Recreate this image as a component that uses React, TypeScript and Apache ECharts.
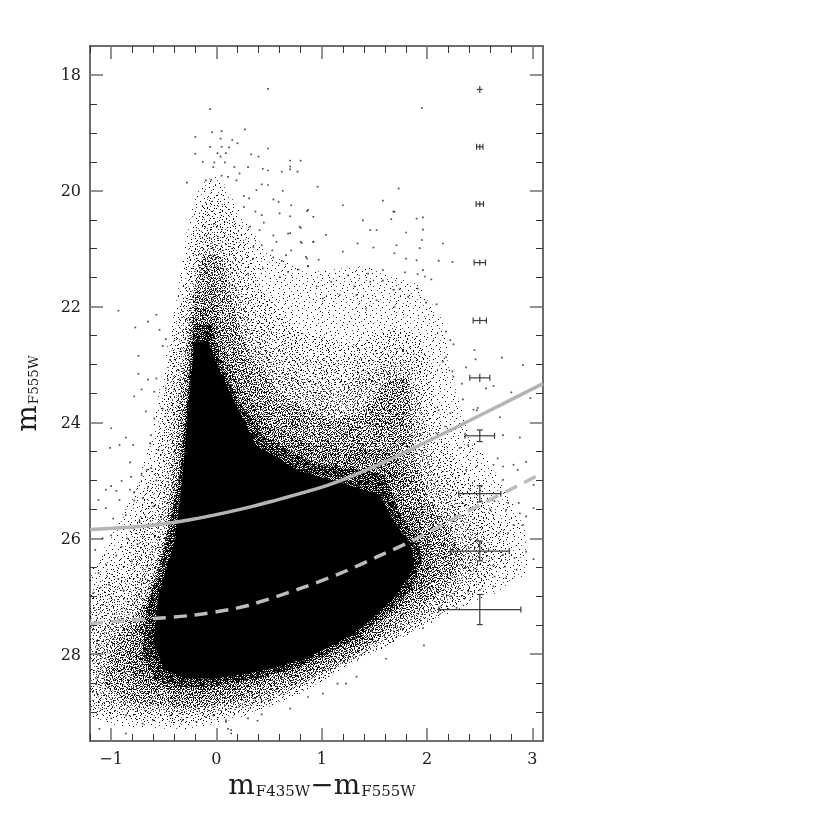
import React, { useEffect, useRef } from "react";
import * as echarts from "echarts";

const xMajor = [-1, 0, 1, 2, 3];
const xMinor = [-1.2, -0.8, -0.6, -0.4, -0.2, 0.2, 0.4, 0.6, 0.8, 1.2, 1.4, 1.6, 1.8, 2.2, 2.4, 2.6, 2.8];
const yMajor = [18, 20, 22, 24, 26, 28];
const yMinor = [18.5, 19, 19.5, 20.5, 21, 21.5, 22.5, 23, 23.5, 24.5, 25, 25.5, 26.5, 27, 27.5, 28.5, 29];

// Solid and dashed completeness curves.
const solidCurve = [[-1.2, 25.85], [-0.63, 25.78], [-0.25, 25.68], [0.13, 25.54], [0.51, 25.37], [1.08, 25.07], [1.55, 24.72], [2.19, 24.16], [3.1, 23.33]];
const dashedCurve = [[-1.2, 27.47], [-0.7, 27.4], [-0.23, 27.33], [0.13, 27.23], [0.32, 27.15], [0.79, 26.87], [1.17, 26.61], [1.55, 26.3], [1.86, 26.04], [2.38, 25.54], [3.1, 24.87]];

// Photometric error bars: [colour, magnitude, colour error, magnitude error].
const errorBars = [
  [2.5, 18.25, 0.028, 0.06], [2.5, 19.24, 0.03, 0.05], [2.5, 20.23, 0.035, 0.05], [2.5, 21.24, 0.054, 0.05], [2.5, 22.24, 0.063, 0.06],
  [2.5, 23.23, 0.095, 0.07], [2.5, 24.23, 0.14, 0.1], [2.5, 25.23, 0.2, 0.14], [2.5, 26.22, 0.28, 0.17], [2.5, 27.23, 0.39, 0.26],
];

// The cloud holds far too many stars to read one by one: its density zones are outlined from the picture, outermost first.
const zoneFaint = [[-0.14, 19.85], [-0.02, 19.75], [0.08, 19.9], [0.3, 20.6], [0.5, 21.1], [0.9, 21.4], [1.4, 21.3], [1.9, 21.6], [2.15, 22.2], [2.25, 23.3], [2.4, 24.2], [2.7, 25.0], [2.95, 25.9], [2.95, 26.6], [2.65, 26.95], [2.2, 27.3], [1.96, 27.55], [1.62, 27.87], [1.3, 28.15], [0.82, 28.67], [0.4, 29.0], [0, 29.2], [-0.3, 29.3], [-0.9, 29.25], [-1.2, 29.1], [-1.2, 26.6], [-0.98, 25.9], [-0.78, 25.2], [-0.62, 24.3], [-0.52, 23.2], [-0.37, 21.8], [-0.28, 20.7], [-0.22, 20.2]];
const zoneA = [[-0.13, 20.2], [0.0, 20.05], [0.1, 20.25], [0.27, 20.8], [0.42, 21.7], [0.8, 22.45], [1.3, 22.65], [1.7, 22.35], [1.92, 22.5], [2.02, 22.9], [2.05, 23.4], [2.15, 24.3], [2.45, 25.1], [2.75, 25.9], [2.75, 26.4], [2.5, 26.9], [2.05, 27.4], [1.62, 27.85], [1.3, 28.15], [0.82, 28.65], [0.4, 28.97], [0, 29.12], [-0.3, 29.2], [-0.9, 29.12], [-1.2, 29.0], [-1.2, 27.0], [-0.9, 26.3], [-0.7, 25.4], [-0.56, 24.4], [-0.47, 23.2], [-0.33, 21.8], [-0.25, 20.9]];
const zoneB = [[-0.1, 20.55], [0.0, 20.45], [0.1, 20.7], [0.22, 21.3], [0.38, 22.1], [0.8, 22.85], [1.3, 22.95], [1.7, 22.6], [1.92, 22.85], [1.95, 23.6], [2.05, 24.5], [2.3, 25.2], [2.55, 25.9], [2.65, 26.5], [2.4, 27.0], [2.0, 27.5], [1.6, 27.83], [1.28, 28.15], [0.82, 28.6], [0.4, 28.93], [0, 29.07], [-0.3, 29.1], [-0.9, 29.05], [-1.2, 28.9], [-1.2, 27.3], [-0.85, 26.6], [-0.65, 25.6], [-0.52, 24.5], [-0.42, 23.2], [-0.3, 21.9], [-0.22, 21.1]];
const zoneC = [[-0.1, 20.95], [0.0, 20.85], [0.08, 21.1], [0.2, 21.7], [0.36, 22.5], [0.7, 23.2], [1.15, 23.4], [1.5, 23.05], [1.8, 22.95], [1.9, 23.3], [1.95, 24.1], [2.05, 24.9], [2.3, 25.5], [2.5, 26.0], [2.5, 26.5], [2.25, 27.0], [1.9, 27.45], [1.55, 27.8], [1.25, 28.15], [0.82, 28.55], [0.4, 28.85], [0, 29.0], [-0.3, 29.03], [-0.9, 28.95], [-1.15, 28.7], [-1.15, 27.7], [-0.8, 27.0], [-0.58, 26.0], [-0.46, 24.8], [-0.37, 23.4], [-0.27, 22.0], [-0.2, 21.4]];
const zoneD = [[-0.13, 21.1], [0.03, 21.1], [0.15, 21.9], [0.3, 22.8], [0.6, 23.5], [1.05, 23.95], [1.38, 23.85], [1.6, 23.3], [1.82, 23.2], [1.85, 23.9], [1.88, 24.6], [2.0, 25.3], [2.2, 25.8], [2.35, 26.3], [2.15, 26.9], [1.8, 27.4], [1.5, 27.8], [1.2, 28.15], [0.82, 28.48], [0.4, 28.75], [0, 28.9], [-0.3, 28.93], [-0.85, 28.82], [-1.08, 28.5], [-1.0, 27.8], [-0.72, 27.2], [-0.52, 26.2], [-0.42, 25.0], [-0.34, 23.5], [-0.25, 22.2]];
const zoneE = [[-0.22, 21.8], [0.0, 21.6], [0.1, 22.3], [0.27, 23.0], [0.6, 23.7], [1.05, 24.05], [1.4, 24.05], [1.6, 23.5], [1.78, 23.4], [1.8, 24.2], [1.85, 25.0], [2.05, 25.7], [2.2, 26.2], [2.05, 26.8], [1.75, 27.3], [1.45, 27.8], [1.15, 28.1], [0.8, 28.4], [0.4, 28.65], [0, 28.8], [-0.3, 28.82], [-0.8, 28.7], [-0.98, 28.3], [-0.9, 27.8], [-0.65, 27.1], [-0.47, 26.2], [-0.38, 25.0], [-0.31, 23.6]];
const zoneF = [[-0.21, 22.0], [-0.02, 22.0], [0.07, 22.7], [0.22, 23.4], [0.5, 24.0], [0.95, 24.4], [1.35, 24.5], [1.6, 24.4], [1.72, 24.6], [1.8, 25.3], [1.98, 25.9], [2.07, 26.3], [1.98, 26.8], [1.7, 27.25], [1.4, 27.75], [1.1, 28.05], [0.8, 28.3], [0.4, 28.55], [0, 28.67], [-0.3, 28.7], [-0.7, 28.6], [-0.85, 28.2], [-0.8, 27.6], [-0.6, 27.0], [-0.42, 26.0], [-0.34, 24.8], [-0.28, 23.4]];
const zoneG = [[-0.22, 22.3], [-0.05, 22.3], [0.05, 23.0], [0.2, 23.6], [0.45, 24.25], [0.9, 24.7], [1.3, 24.8], [1.6, 24.9], [1.72, 25.5], [1.9, 26.0], [1.95, 26.4], [1.85, 26.9], [1.6, 27.3], [1.35, 27.7], [1.05, 28.0], [0.8, 28.2], [0.4, 28.42], [0, 28.55], [-0.3, 28.58], [-0.58, 28.45], [-0.7, 28.0], [-0.66, 27.2], [-0.5, 26.2], [-0.35, 24.9], [-0.27, 23.5]];
const coreZone = [[-0.21, 22.6], [-0.08, 22.6], [0.03, 23.1], [0.16, 23.6], [0.38, 24.4], [0.8, 24.85], [1.2, 25.05], [1.55, 25.25], [1.7, 25.75], [1.85, 26.15], [1.88, 26.5], [1.7, 27.0], [1.5, 27.35], [1.3, 27.65], [1.05, 27.9], [0.8, 28.1], [0.4, 28.3], [0, 28.42], [-0.3, 28.42], [-0.5, 28.25], [-0.6, 27.8], [-0.55, 27.0], [-0.39, 26.0], [-0.32, 24.9], [-0.26, 23.6]];

// Individually readable stars outside the dense parts of the cloud.
const starsTop = [[0.49, 18.24], [-0.06, 18.59], [-0.04, 18.99], [0.05, 18.97], [0.27, 18.94], [-0.2, 19.07], [0.04, 19.1], [0.15, 19.12], [0.2, 19.18], [-0.06, 19.24], [0.05, 19.24], [0.12, 19.25], [0.49, 19.27], [-0.2, 19.36], [0.01, 19.35], [0.09, 19.35], [0.04, 19.41], [0.33, 19.37], [0.4, 19.41], [0.7, 19.48], [0.8, 19.48], [-0.02, 19.51], [0.08, 19.51], [-0.13, 19.5], [0.17, 19.59], [0.3, 19.59], [-0.03, 19.59], [0.44, 19.62], [0.49, 19.65], [0.7, 19.58], [0.7, 19.63], [0.62, 19.67], [0.77, 19.67], [0.22, 19.7], [0.19, 19.82], [0.05, 19.74], [0.11, 19.76], [-0.05, 19.81], [-0.1, 19.82], [-0.28, 19.86], [0.96, 19.93], [0.43, 19.89], [0.38, 19.99], [0.49, 19.9], [0.63, 20.0], [0.26, 20.09], [0.31, 20.13], [0.54, 20.15], [0.59, 20.19], [0.71, 20.25], [0.26, 20.28], [0.86, 20.35], [0.92, 20.45], [0.37, 20.36], [0.43, 20.42], [0.6, 20.39], [0.7, 20.44], [0.45, 20.55], [0.32, 20.62], [0.8, 20.64], [0.7, 20.73], [0.54, 20.77], [0.41, 20.68], [0.8, 20.88], [0.92, 20.88], [0.57, 20.88], [0.53, 21.03], [0.71, 21.03], [0.35, 20.97], [0.43, 20.94], [0.86, 21.17], [0.97, 21.19], [0.54, 21.15], [0.35, 21.17], [0.62, 21.21], [0.87, 21.3], [0.44, 21.34], [0.68, 21.4], [0.78, 21.36], [0.3, 21.43], [0.6, 21.49]];
const starsUpperRight = [[0.79, 20.62], [1.04, 20.76], [0.87, 20.33], [1.2, 20.25], [1.69, 20.36], [1.66, 20.49], [1.39, 20.51], [1.9, 20.48], [1.96, 20.46], [1.46, 20.68], [1.52, 20.68], [1.8, 20.72], [1.96, 20.67], [0.68, 20.74], [0.81, 20.9], [0.92, 20.88], [1.34, 20.91], [1.71, 20.94], [1.95, 20.85], [2.15, 20.91], [1.2, 21.05], [1.49, 20.98], [1.69, 21.08], [1.93, 20.99], [0.85, 21.14], [0.87, 21.3], [1.8, 21.17], [1.9, 21.2], [2.11, 21.21], [2.24, 21.23], [0.66, 21.11], [1.25, 21.46], [1.44, 21.43], [1.58, 21.37], [1.79, 21.41], [1.96, 21.37], [1.91, 21.44], [1.09, 21.57], [0.95, 21.65], [1.31, 21.65], [1.46, 21.57], [1.58, 21.55], [1.68, 21.71], [1.74, 21.7], [1.91, 21.69], [1.98, 21.48], [2.04, 21.53], [1.01, 21.86], [1.33, 21.8], [1.17, 21.8], [1.82, 21.83], [1.52, 21.89], [1.99, 21.93], [2.09, 21.96], [1.69, 22.0], [1.42, 22.03], [2.18, 22.43], [2.25, 22.65], [2.22, 22.58], [2.45, 22.75], [2.18, 22.87], [2.15, 22.95], [2.24, 23.12], [2.33, 23.33], [2.25, 23.21], [2.11, 23.79], [2.22, 23.84], [2.34, 23.6], [2.47, 23.79], [2.18, 24.07], [2.09, 24.19], [1.95, 18.57], [1.73, 19.96], [1.58, 20.17], [1.68, 20.36], [2.46, 22.91], [2.71, 22.88], [2.91, 23.01], [2.37, 23.05], [2.56, 23.41], [2.63, 23.37]];
const starsRight = [[2.8, 23.48], [2.98, 23.58], [2.69, 23.91], [2.44, 23.78], [2.48, 23.75], [2.72, 24.22], [2.88, 24.26], [2.31, 24.44], [2.39, 24.39], [2.67, 24.62], [2.94, 24.68], [2.82, 24.73], [2.72, 24.76], [2.63, 24.73], [2.86, 24.82], [2.47, 24.76], [2.37, 24.82], [2.72, 24.99], [3.01, 25.08], [2.77, 25.39], [2.87, 25.39], [2.64, 25.36], [3.01, 25.48], [2.94, 25.62], [2.88, 25.57], [2.75, 25.51], [2.6, 25.51], [2.82, 25.77], [2.77, 25.91], [2.68, 25.91], [2.91, 25.77], [2.94, 26.23], [3.01, 26.36], [2.85, 26.54], [2.83, 26.34], [2.74, 26.49], [2.72, 26.29], [2.75, 26.69], [2.64, 26.66], [2.63, 26.83], [2.5, 26.89], [2.39, 26.92], [2.28, 27.2], [2.12, 27.23], [1.96, 27.55], [2.23, 27.0]];
const starsLeft = [[-0.93, 22.07], [-0.77, 22.36], [-0.65, 22.26], [-0.57, 22.14], [-0.54, 22.4], [-0.48, 22.56], [-0.74, 22.85], [-0.51, 22.68], [-0.44, 22.92], [-0.74, 23.16], [-0.65, 23.26], [-0.57, 23.24], [-0.46, 23.27], [-0.71, 23.43], [-0.59, 23.47], [-0.78, 23.55], [-0.48, 23.41], [-0.67, 23.81], [-0.59, 23.93], [-0.51, 23.76], [-0.86, 24.26], [-0.92, 24.39], [-1.01, 24.44], [-0.79, 24.39], [-1.0, 24.1], [-0.62, 24.22], [-0.63, 24.36], [-0.55, 24.48], [-0.82, 24.69], [-0.66, 24.82], [-0.9, 25.01], [-0.81, 24.94], [-0.71, 24.91], [-0.62, 24.79], [-1.05, 25.16], [-1.0, 25.1], [-0.82, 25.16], [-0.78, 25.2], [-0.95, 25.18], [-0.65, 25.11], [-0.57, 25.0], [-1.12, 25.34], [-1.05, 25.48], [-0.92, 25.34], [-0.78, 25.35], [-0.7, 25.31], [-0.86, 25.6], [-0.98, 25.66], [-0.73, 25.71], [-0.6, 25.45], [-1.15, 26.2], [-1.08, 26.0], [-1.0, 25.95], [-1.12, 26.6], [-1.05, 26.45], [-0.95, 26.3], [-0.9, 26.15], [-0.85, 26.0], [-0.8, 26.4], [-0.75, 26.1], [-1.17, 26.95], [-1.1, 26.85], [-1.02, 26.8], [-0.93, 26.7], [-0.88, 26.9], [-1.16, 27.2], [-1.08, 27.15]];
const starsBottom = [[-0.998, 29.11], [-0.86, 29.06], [-0.7, 29.2], [-0.6, 29.14], [-0.44, 29.06], [-0.32, 29.14], [-0.19, 29.17], [-1.11, 29.29], [-0.86, 29.37], [0.11, 29.29], [0.09, 29.17], [-0.1, 29.09], [0.14, 29.37], [-0.03, 29.06], [1.97, 27.85], [1.61, 28.08], [1.33, 28.39], [1.23, 28.51], [1.15, 28.51], [1.01, 28.68], [0.87, 28.74], [0.7, 28.94], [0.43, 29.04], [0.39, 29.15], [0.3, 29.11], [0.14, 29.31], [0.09, 29.14], [0.51, 28.8]];
const stars = [...starsTop, ...starsUpperRight, ...starsRight, ...starsLeft, ...starsBottom];

// Stipple tiles, typed by hand: # and + are specks of two classes.
const faintTile = [
  ".....#..............+.........#......",
  ".............#..............+........",
  "..+.....................#..........#.",
  "..........+......#...................",
  "....................+.......#........",
  "#.......#.................+..........",
  ".............+.....#.................",
  "...+......................#......+...",
  ".........................+...........",
  "........#.......+...................#",
  ".#..............................#....",
  "............#..........#.............",
  "......+...............+......#.......",
  "...................#.................",
  "..#.......+......................+...",
  "........................#............",
  "...............#..........+.....#....",
  "......#..............................",
  ".....................+...........#...",
  "+..........#..............#..........",
  ".................+...................",
  "...#.....................+.......+...",
  "...........+......#..................",
  "......................#........#.....",
  ".......+.............................",
  "#...............#...........+........",
  "..........#...............#..........",
  "...+..................+............#.",
  "..............+......................",
  ".........#..........#.........#......",
  "........................+............",
  ".#.....+......#......................",
  "................................+....",
  "...........#.............#...........",
  "....+..............+.................",
  "........................#.........#..",
  "..#.........+.................+......",
];
const sparseTile = [
  "...#.....+.......#.....+.......",
  ".........#..+........+.....#...",
  ".+...#..........#.........+....",
  "..........+.#.......+..#.......",
  "#...+...............#.......+..",
  ".......#....+..#.........+.....",
  "..+.........#.......+.......#..",
  ".....+.#.........#.....#.......",
  "#..........+...+.......+...+...",
  "...#..+.........#.#...........#",
  "..........#.........+....#.....",
  ".+..........+.....#.......+....",
  "....#..+........+.......#......",
  "..........#..#.......#.......+.",
  "+.....+............+....+......",
  "...#.........+..#.........#....",
  ".......#.+.........#.+.........",
  ".+...........#..........#..+...",
  "....+..#.........+..#..........",
  "#.........+..#..........+...#..",
  ".....#..........#..+...........",
  "..+......#.+.........#...+.....",
  ".......+.......+..#.........#..",
  "...#.......#.........+.#.......",
  "+.........+....#.............+.",
  ".....#.+...........#..+...#....",
  "..#..........#.+.........+.....",
  ".......+.#.......#..+.......#..",
  ".+.............+......#.+......",
  "....#..+...#.........#.......+.",
  "..........+.....#.+.......#....",
];
const mediumTile = [
  "#..+.#...#.+..#..+.#..+..#.",
  "..#...+.#..#...+....#.#...+",
  ".+..#.....+..#.#.+.....+.#.",
  "#...+.#.#.....+...#.#.+....",
  "..#.....+.#.+..#.....#..#.+",
  ".+..#.+....#.....#.+...+...",
  "...#...#.+...#.+....#.#..#.",
  "#.+..#.....#....#.+.....+..",
  "..#.+...#.+..#....#.+.#...#",
  ".....#.+...#...+.#...#..+..",
  ".#.+....#.....#.....+..#...",
  "+...#.#...+.#...+.#...#..+.",
  "..#....+.#....#.#..+.....#.",
  ".+..#.#.....+.....#..#.+...",
  "#.....+..#.#..+.#....#...#.",
  "..+.#..#.....#....+.#..+...",
  ".#....+..+.#...#.#.....#.+.",
  "...#.#.....#.+.....+.#...#.",
  "+.#...+.#.....#.+.#...+....",
  "....#....#.+.#....#..#..+.#",
  ".#.+..#.+.....#.+...+..#...",
  "+....#...#.#.....#.#.....+.",
  "..#.+..#....+.#.+....#.#...",
  "#...#.+..+.#....#.+.#....+.",
  "..+....#.....#.+....#.+.#..",
  ".#..#.+.#.+.#...#.+...#...#",
  "...+....#...+.#....#.+..#..",
];
const denseTile = [
  "##.#.+#.##.#+.#.#.##.#.",
  ".#+.##.#.+#.#.##.+#.#+#",
  "#.#.#.+#.#.#+.#.#.#.##.",
  "+#.##.#.#+.##.#.+#.#.#.",
  "#.#+.#.#.##.#.+#.##.#+#",
  ".#.#.##+.#.#.#.#.+#.#.#",
  "#+.#.#.#.#+#.##.#.#.+#.",
  ".#.##.+#.#.#.+#.#.##.#.",
  "#.#.#.#.+##.#.#.#+.#.#+",
  ".+#.#+.#.#.#.##.#.#.#.#",
  "#.#.#.#.##.+#.#.+#.##.#",
  ".##.+#.#.#.#.#.##.#.+#.",
  "#.#.#.#+.#.##.+#.#.#.#.",
  ".#+.#.##.#+.#.#.#.#+.##",
  "#.#.#.#.#.#.#+.##.#.#.#",
  "+#.##.+#.#.#.#.#.+#.#.#",
  "#.#.#.#.##.+#.#.#.#.##.",
  ".#.#+.#.#.#.##.#+.#.#.+",
  "##.#.#.+#.#.#.#.#.#+.#.",
  ".#.+#.#.#.##.+#.#.#.#.#",
  "#.#.#.##.#.#.#.##.+#.#.",
  ".#.##.#.+.#.#+.#.#.#.##",
  "#+.#.#.#.##.#.#.+#.#.#.",
];

const LINE = "#666";
const INK = "#1c1c1c";
const SERIF = "'DejaVu Serif', 'Liberation Serif', serif";

// keep: which speck classes to paint; flip: use the tile's mirror image so stacked layers do not line up.
function tilePattern(rows: string[], keep: string, flip = false) {
  const w = rows[0].length;
  const h = rows.length;
  const c = document.createElement("canvas");
  c.width = flip ? h : w;
  c.height = flip ? w : h;
  const g = c.getContext("2d")!;
  rows.forEach((row, j) =>
    row.split("").forEach((ch, i) => {
      if (keep.includes(ch)) {
        g.fillStyle = ch === "#" ? "#000" : "#555";
        if (flip) g.fillRect(j, i, 1, 1);
        else g.fillRect(i, j, 1, 1);
      }
    })
  );
  return { image: c, repeat: "repeat", imageWidth: c.width, imageHeight: c.height };
}

function zoneSeries(outline: number[][], fill: unknown, z: number) {
  return {
    type: "custom",
    silent: true,
    z,
    clip: true,
    data: outline,
    encode: { x: 0, y: 1 },
    renderItem: (params: any, api: any) => {
      if (params.dataIndex !== 0) return null;
      return {
        type: "polygon",
        shape: { points: outline.map((p) => api.coord(p)) },
        style: { fill },
      };
    },
  };
}

function axisPair(position: string, range: [number, number], major: number[], minor: number[], labelled: boolean, extra: object) {
  const base = {
    type: "value",
    position,
    min: range[0],
    max: range[1],
    axisLine: { show: true, onZero: false, lineStyle: { color: LINE, width: 1.6 } },
    splitLine: { show: false },
    ...extra,
  };
  return [
    {
      ...base,
      axisTick: { show: true, inside: true, length: 13, customValues: major, lineStyle: { color: "#777", width: 1.6 } },
      axisLabel: labelled
        ? {
            show: true,
            customValues: major,
            margin: 9,
            color: INK,
            fontFamily: SERIF,
            fontSize: 16,
            formatter: (v: number) => (v < 0 ? "\u2212" + Math.abs(v) : String(v)),
          }
        : { show: false },
    },
    {
      ...base,
      name: "",
      axisTick: { show: true, inside: true, length: 7, customValues: minor, lineStyle: { color: "#333", width: 1 } },
      axisLabel: { show: false },
    },
  ];
}

const titleRich = {
  m: { fontFamily: SERIF, fontSize: 28, color: INK },
  s: { fontFamily: SERIF, fontSize: 15, color: INK, padding: [13, 0, 0, 1] },
};

export default function App() {
  const ref = useRef<HTMLDivElement>(null);
  useEffect(() => {
    const chart = echarts.init(ref.current!, undefined, { renderer: "svg" });
    const xRange: [number, number] = [-1.2, 3.1];
    const yRange: [number, number] = [17.5, 29.5];
    const xExtra = {
      name: "{m|m}{s|F435W}{m|\u2212m}{s|F555W}",
      nameLocation: "middle",
      nameGap: 26,
      nameTextStyle: { rich: titleRich, padding: [0, 0, 0, 11] },
    };
    const yExtra = {
      inverse: true,
      name: "{m|m}{s|F555W}",
      nameLocation: "middle",
      nameGap: 50,
      nameTextStyle: { rich: { ...titleRich, s: { ...titleRich.s, fontSize: 13.5 } } },
    };
    chart.setOption({
      animation: false,
      backgroundColor: "#fff",
      grid: { left: 90, top: 46, width: 453, height: 695, containLabel: false },
      xAxis: [
        ...axisPair("bottom", xRange, xMajor, xMinor, true, xExtra),
        ...axisPair("top", xRange, xMajor, xMinor, false, {}),
      ],
      yAxis: [
        ...axisPair("left", yRange, yMajor, yMinor, true, yExtra),
        ...axisPair("right", yRange, yMajor, yMinor, false, { inverse: true }),
      ],
      series: [
        zoneSeries(zoneFaint, tilePattern(faintTile, "#+"), 1),
        zoneSeries(zoneA, tilePattern(sparseTile, "#"), 1),
        zoneSeries(zoneB, tilePattern(sparseTile, "+", true), 1),
        zoneSeries(zoneC, tilePattern(mediumTile, "+"), 2),
        zoneSeries(zoneD, tilePattern(mediumTile, "#", true), 2),
        zoneSeries(zoneE, tilePattern(sparseTile, "#+", true), 3),
        zoneSeries(zoneF, tilePattern(mediumTile, "#+"), 3),
        zoneSeries(zoneG, tilePattern(denseTile, "#+", true), 3),
        zoneSeries(coreZone, "#000", 4),
        {
          type: "scatter",
          silent: true,
          z: 5,
          symbol: "rect",
          symbolSize: 1.7,
          itemStyle: { color: "#222" },
          data: stars,
        },
        {
          type: "line",
          z: 6,
          silent: true,
          showSymbol: false,
          smooth: 0.3,
          data: solidCurve,
          lineStyle: { color: "#b4b4b4", width: 3.5 },
        },
        {
          type: "line",
          z: 6,
          silent: true,
          showSymbol: false,
          smooth: 0.3,
          data: dashedCurve,
          lineStyle: { color: "#bcbcbc", width: 3.5, type: [13, 8] },
        },
        {
          type: "custom",
          z: 7,
          silent: true,
          data: errorBars,
          encode: { x: 0, y: 1 },
          renderItem: (_p: any, api: any) => {
            const x = api.value(0), y = api.value(1), ex = api.value(2), ey = api.value(3);
            const c = api.coord([x, y]);
            const l = api.coord([x - ex, y])[0], r = api.coord([x + ex, y])[0];
            const t = api.coord([x, y - ey])[1], b = api.coord([x, y + ey])[1];
            const seg = (x1: number, y1: number, x2: number, y2: number) => ({
              type: "line",
              shape: { x1, y1, x2, y2 },
              style: { stroke: "#3c3c3c", lineWidth: 1.2 },
            });
            const capV = ex < 0.029 ? 0 : 3;
            const capH = ey < 0.08 ? 0 : 3;
            return {
              type: "group",
              children: [
                seg(l, c[1], r, c[1]),
                seg(c[0], t, c[0], b),
                seg(l, c[1] - capV, l, c[1] + capV),
                seg(r, c[1] - capV, r, c[1] + capV),
                seg(c[0] - capH, t, c[0] + capH, t),
                seg(c[0] - capH, b, c[0] + capH, b),
              ],
            };
          },
        },
      ],
    });
    return () => chart.dispose();
  }, []);
  return (
    <div
      ref={ref}
      style={{ position: "absolute", left: 0, top: 0, width: 830, height: 830, background: "#fff", filter: "blur(0.4px)" }}
    />
  );
}
